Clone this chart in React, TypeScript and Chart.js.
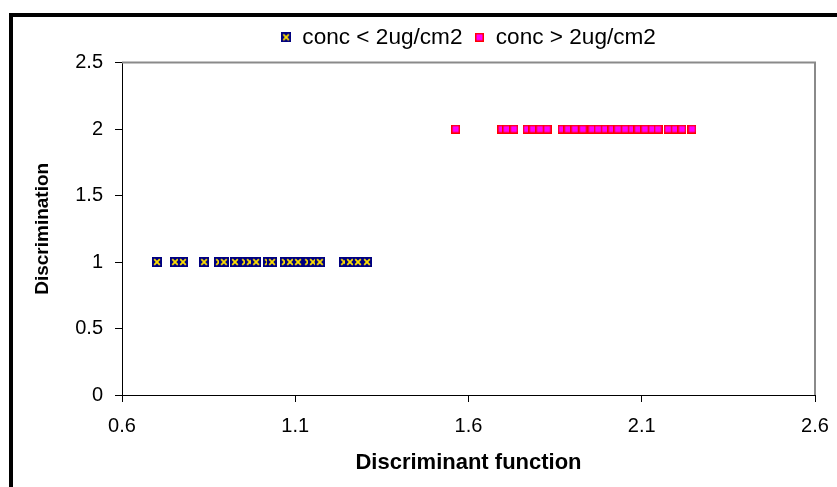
import React, { useEffect, useRef } from "react";
import { Chart, registerables } from "chart.js";

Chart.register(...registerables);

const lowConcX = [0.701, 0.753, 0.776, 0.837, 0.88, 0.894, 0.926, 0.955, 0.969, 0.987, 1.021, 1.033, 1.07, 1.085, 1.108, 1.137, 1.151, 1.171, 1.241, 1.258, 1.281, 1.307];
const lowConcY = [1, 1, 1, 1, 1, 1, 1, 1, 1, 1, 1, 1, 1, 1, 1, 1, 1, 1, 1, 1, 1, 1];
const highConcX = [1.563, 1.696, 1.71, 1.731, 1.769, 1.786, 1.806, 1.827, 1.87, 1.887, 1.907, 1.93, 1.956, 1.974, 1.994, 2.014, 2.031, 2.052, 2.072, 2.089, 2.109, 2.13, 2.147, 2.176, 2.196, 2.216, 2.245];
const highConcY = [2, 2, 2, 2, 2, 2, 2, 2, 2, 2, 2, 2, 2, 2, 2, 2, 2, 2, 2, 2, 2, 2, 2, 2, 2, 2, 2];
const seriesNames = ["conc < 2ug/cm2", "conc > 2ug/cm2"];
const xTicks = [0.6, 1.1, 1.6, 2.1, 2.6];
const yTicks = [0, 0.5, 1, 1.5, 2, 2.5];
const xTitle = "Discriminant function";
const yTitle = "Discrimination";

function makeBlueIcon() {
  const c = document.createElement("canvas");
  c.width = 10;
  c.height = 10;
  const g = c.getContext("2d")!;
  g.fillStyle = "#000080";
  g.fillRect(0, 0, 10, 10);
  g.strokeStyle = "#FFE000";
  g.lineWidth = 1.8;
  g.beginPath();
  g.moveTo(2.2, 2.2);
  g.lineTo(7.8, 7.8);
  g.moveTo(7.8, 2.2);
  g.lineTo(2.2, 7.8);
  g.stroke();
  return c;
}

function makePinkIcon() {
  const c = document.createElement("canvas");
  c.width = 9;
  c.height = 9;
  const g = c.getContext("2d")!;
  g.fillStyle = "#FF0000";
  g.fillRect(0, 0, 9, 9);
  g.fillStyle = "#FF00FF";
  g.fillRect(1.5, 1.5, 6, 6);
  return c;
}

const FONT = "'Liberation Sans', Arial, sans-serif";

export default function App() {
  const ref = useRef<HTMLCanvasElement>(null);

  useEffect(() => {
    if (!ref.current) return;
    const blueIcon = makeBlueIcon();
    const pinkIcon = makePinkIcon();

    const plotFrame = {
      id: "plotFrame",
      beforeDatasetsDraw(chart: any) {
        const { ctx, chartArea } = chart;
        ctx.save();
        ctx.strokeStyle = "#8a8a8a";
        ctx.lineWidth = 2;
        ctx.beginPath();
        ctx.moveTo(chartArea.left, chartArea.top);
        ctx.lineTo(chartArea.right, chartArea.top);
        ctx.lineTo(chartArea.right, chartArea.bottom);
        ctx.stroke();
        ctx.restore();
      },
    };

    const chart = new Chart(ref.current, {
      type: "scatter",
      data: {
        datasets: [
          {
            label: seriesNames[0],
            data: lowConcX.map((x, i) => ({ x, y: lowConcY[i] })),
            pointStyle: blueIcon as any,
            pointRadius: 5,
            pointHoverRadius: 5,
            backgroundColor: "#000080",
            borderColor: "#000080",
          },
          {
            label: seriesNames[1],
            data: highConcX.map((x, i) => ({ x, y: highConcY[i] })),
            pointStyle: pinkIcon as any,
            pointRadius: 5,
            pointHoverRadius: 5,
            backgroundColor: "#FF00FF",
            borderColor: "#FF0000",
          },
        ],
      },
      options: {
        responsive: false,
        animation: false,
        layout: { padding: { top: 14, left: 0, right: 22, bottom: 0 } },
        plugins: {
          legend: {
            display: true,
            position: "top",
            fullSize: false,
            labels: {
              usePointStyle: true,
              pointStyleWidth: 10,
              padding: 12,
              color: "#000",
              font: { family: FONT, size: 22.6 },
            },
          },
          tooltip: { enabled: false },
        },
        scales: {
          x: {
            type: "linear",
            position: "bottom",
            min: 0.6,
            max: 2.6,
            afterBuildTicks: (s: any) => {
              s.ticks = xTicks.map((v) => ({ value: v }));
            },
            afterFit: (s: any) => {
              s.height = 92;
              s.paddingRight = 0;
              s.paddingLeft = 0;
            },
            ticks: {
              color: "#000",
              padding: 12,
              font: { family: FONT, size: 20 },
              callback: (v: any) => String(v),
            },
            grid: { drawOnChartArea: false, color: "#000", tickLength: 7 },
            border: { color: "#000", width: 1 },
            title: {
              display: true,
              text: xTitle,
              color: "#000",
              font: { family: FONT, size: 22, weight: "bold" },
              padding: { top: 0, bottom: 11 },
            },
          },
          xTop: {
            type: "linear",
            position: "top",
            min: 0.6,
            max: 2.6,
            display: true,
            ticks: { display: false },
            grid: { display: false },
            border: { display: false },
            afterFit: (s: any) => {
              s.height = 4;
            },
          },
          y: {
            type: "linear",
            min: 0,
            max: 2.5,
            afterBuildTicks: (s: any) => {
              s.ticks = yTicks.map((v) => ({ value: v }));
            },
            afterFit: (s: any) => {
              s.width = 122;
            },
            ticks: {
              color: "#000",
              padding: 12,
              font: { family: FONT, size: 20 },
              callback: (v: any) => String(v),
            },
            grid: { drawOnChartArea: false, color: "#000", tickLength: 7 },
            border: { color: "#000", width: 1 },
            title: {
              display: true,
              text: yTitle,
              color: "#000",
              font: { family: FONT, size: 19, weight: "bold" },
              padding: { top: 31, bottom: 0 },
            },
          },
        },
      },
      plugins: [plotFrame],
    });
    return () => chart.destroy();
  }, []);

  return (
    <div style={{ position: "absolute", left: 0, top: 0, width: 837, height: 487, overflow: "hidden" }}>
      <div
        style={{
          position: "absolute",
          left: 9,
          top: 13,
          width: 900,
          height: 600,
          border: "4px solid #000",
          boxSizing: "border-box",
        }}
      />
      <canvas
        ref={ref}
        width={837}
        height={487}
        style={{ position: "absolute", left: 0, top: 0, width: 837, height: 487 }}
      />
    </div>
  );
}
